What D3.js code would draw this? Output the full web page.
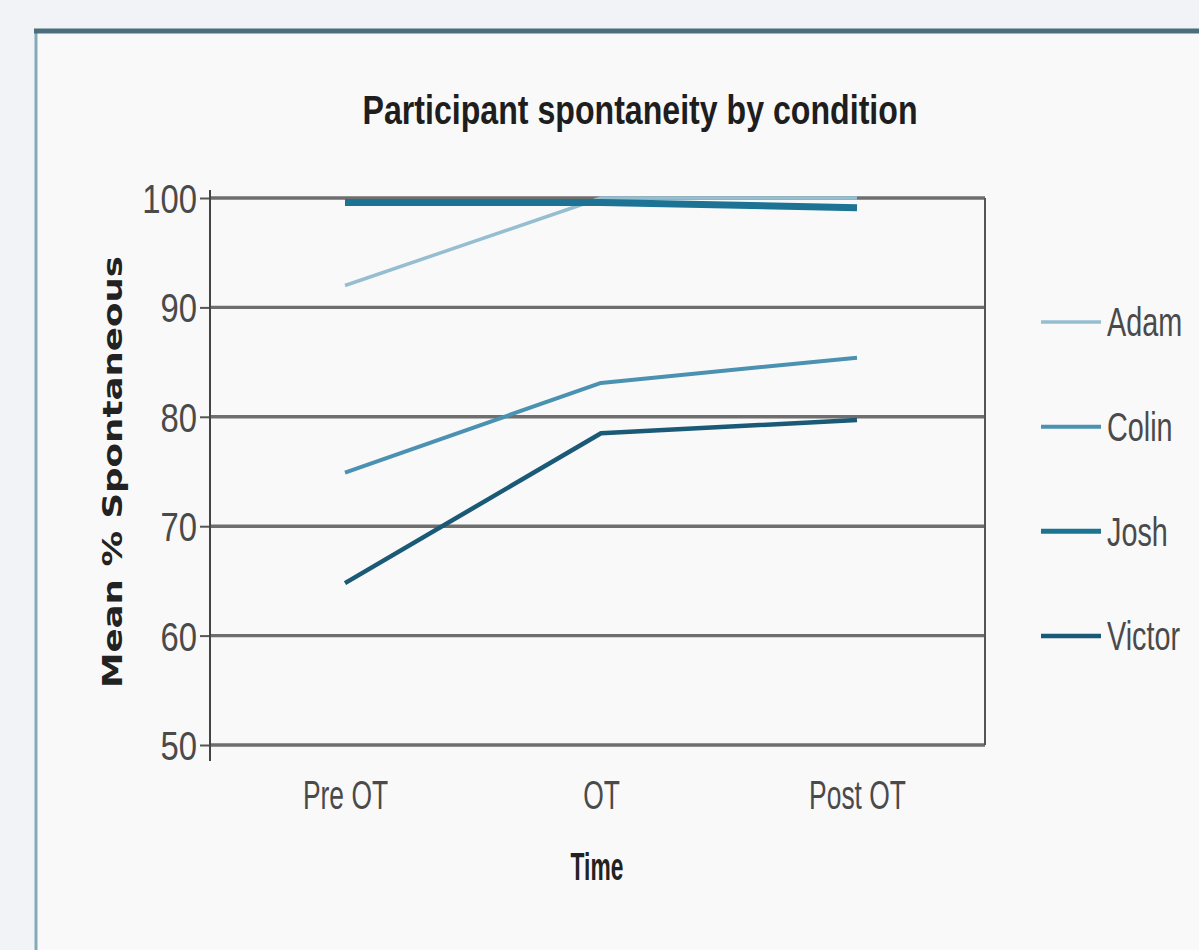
<!DOCTYPE html>
<html>
<head>
<meta charset="utf-8">
<script src="https://cdn.jsdelivr.net/npm/d3@7"></script>
<style>
  html, body { margin: 0; padding: 0; background: #f1f3f7; }
  svg { display: block; }
</style>
</head>
<body>
<script>
// ---- data ----
const categories = ["Pre OT", "OT", "Post OT"];
const seriesNames = ["Adam", "Colin", "Josh", "Victor"];
const adam   = [92, 100, 100];
const colin  = [74.9, 83.1, 85.4];
const josh   = [99.6, 99.6, 99.1];
const victor = [64.8, 78.5, 79.7];
const yTicks = [50, 60, 70, 80, 90, 100];
const titleText = "Participant spontaneity by condition";
const yTitle = "Mean % Spontaneous";
const xTitle = "Time";

const seriesValues = { Adam: adam, Colin: colin, Josh: josh, Victor: victor };
const colors = { Adam: "#95bed1", Colin: "#4b91b1", Josh: "#1c7393", Victor: "#1a5a77" };
const widths = { Adam: 3.5, Colin: 4, Josh: 7, Victor: 4.5 };
const drawOrder = ["Adam", "Colin", "Victor", "Josh"];

const W = 1199, H = 950;
const svg = d3.select("body").append("svg").attr("width", W).attr("height", H);

// condense helper: squeeze text horizontally (narrow font look)
function condense(sel, k) {
  sel.each(function () {
    const len = this.getComputedTextLength();
    d3.select(this).attr("textLength", len * k).attr("lengthAdjust", "spacingAndGlyphs");
  });
}

// panel
svg.append("rect").attr("x", 0).attr("y", 0).attr("width", W).attr("height", H).attr("fill", "#f1f3f7");
svg.append("rect").attr("x", 36).attr("y", 32).attr("width", W).attr("height", H)
  .attr("fill", "#f9f9fa");
svg.append("line").attr("x1", 36).attr("x2", 36).attr("y1", 30).attr("y2", H)
  .attr("stroke", "#86a9ba").attr("stroke-width", 3);
svg.append("line").attr("x1", 34).attr("x2", W).attr("y1", 31).attr("y2", 31)
  .attr("stroke", "#4a6e7e").attr("stroke-width", 5);

const FONT = "'Liberation Sans', Arial, sans-serif";

// scales
const plotL = 210, plotR = 985;
const x = d3.scalePoint().domain(categories).range([217, 985]).padding(0.5);
const y = d3.scaleLinear().domain([50, 100]).range([745, 198]);

// gridlines
svg.append("g").selectAll("line").data(yTicks).join("line")
  .attr("x1", plotL).attr("x2", plotR)
  .attr("y1", d => y(d)).attr("y2", d => y(d))
  .attr("stroke", "#6e6e6e").attr("stroke-width", 3.4);

// right border of plot
svg.append("line").attr("x1", plotR).attr("x2", plotR).attr("y1", y(100)).attr("y2", y(50))
  .attr("stroke", "#555").attr("stroke-width", 2);

// y axis
const yAxis = svg.append("g").attr("transform", `translate(${plotL},0)`)
  .call(d3.axisLeft(y).tickValues(yTicks).tickSize(10).tickPadding(3).tickSizeOuter(0));
yAxis.select(".domain").remove();
yAxis.selectAll(".tick line").attr("stroke", "#555").attr("stroke-width", 2);
yAxis.selectAll(".tick text")
  .attr("font-family", FONT).attr("font-size", 40).attr("fill", "#4a4a4a")
  .attr("dy", "0.36em")
  .call(condense, 0.82);
yAxis.append("line").attr("x1", 0).attr("x2", 0).attr("y1", y(100) - 8).attr("y2", y(50) + 16)
  .attr("stroke", "#444").attr("stroke-width", 2);

// x axis
const xAxis = svg.append("g").attr("transform", `translate(0,${y(50)})`)
  .call(d3.axisBottom(x).tickSize(0).tickPadding(36));
xAxis.select(".domain").remove();
xAxis.selectAll(".tick text")
  .attr("font-family", FONT).attr("font-size", 40).attr("fill", "#4a4a4a")
  .call(condense, 0.66);

// lines
const line = d3.line().x((d, i) => x(categories[i])).y(d => y(d));
svg.append("g").selectAll("path").data(drawOrder).join("path")
  .attr("d", name => line(seriesValues[name]))
  .attr("fill", "none")
  .attr("stroke", name => colors[name])
  .attr("stroke-width", name => widths[name])
  .attr("stroke-linejoin", "round");

// title
svg.append("text").attr("x", 640).attr("y", 124).attr("text-anchor", "middle")
  .attr("font-family", FONT).attr("font-weight", "bold").attr("font-size", 41)
  .attr("fill", "#1e1e1e")
  .attr("textLength", 555).attr("lengthAdjust", "spacingAndGlyphs")
  .text(titleText);

// y title
svg.append("text").attr("transform", "translate(122,472) rotate(-90)")
  .attr("text-anchor", "middle")
  .attr("font-family", "'DejaVu Sans', sans-serif").attr("font-weight", "bold").attr("font-size", 26)
  .attr("fill", "#222")
  .attr("textLength", 432).attr("lengthAdjust", "spacingAndGlyphs")
  .text(yTitle);

// x title
svg.append("text").attr("x", 597).attr("y", 880).attr("text-anchor", "middle")
  .attr("font-family", FONT).attr("font-weight", "bold").attr("font-size", 38)
  .attr("fill", "#222")
  .text(xTitle)
  .call(condense, 0.6);

// legend
const legY = d3.scalePoint().domain(seriesNames).range([322, 636]);
const leg = svg.append("g").selectAll("g").data(seriesNames).join("g")
  .attr("transform", d => `translate(1041,${legY(d)})`);
leg.append("line").attr("x1", 0).attr("x2", 60).attr("y1", 0).attr("y2", 0)
  .attr("stroke", d => colors[d]).attr("stroke-width", d => Math.min(widths[d], 5));
leg.append("text").attr("transform", "translate(66,0) scale(0.72,1)")
  .attr("x", 0).attr("y", 0).attr("dy", "0.36em")
  .attr("font-family", FONT).attr("font-size", 40).attr("fill", "#4a4a4a")
  .text(d => d);
</script>
</body>
</html>
